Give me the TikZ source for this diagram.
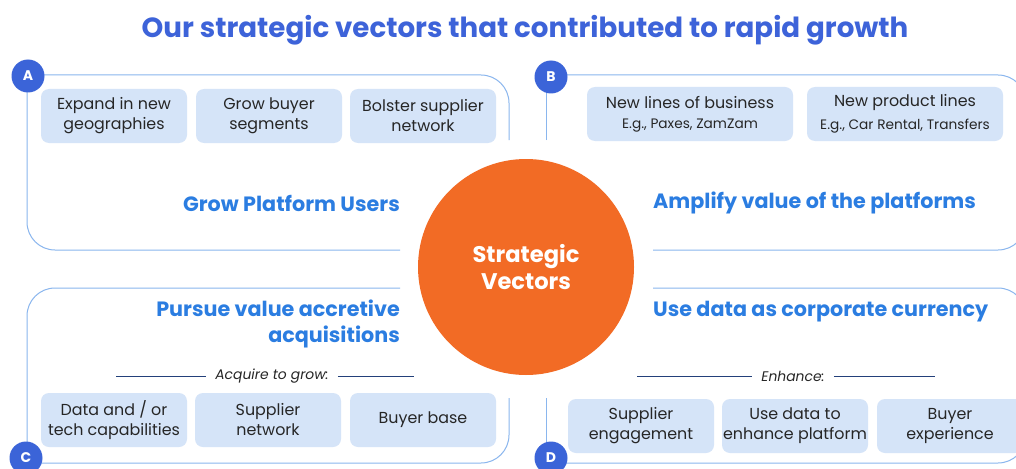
\documentclass[tikz,border=0pt]{standalone}
\usepackage{fontspec}
\setmainfont{Poppins}
\begin{document}
\begin{tikzpicture}[x=1pt,y=-1pt,
  panel/.style={draw=panelc, line width=1pt, rounded corners=28},
  pline/.style={draw=panelc, line width=1pt},
  item/.style={fill=boxc, rounded corners=8, minimum width=146pt, minimum height=54pt, inner sep=0pt, align=center, font=\fontsize{15.9}{20}\selectfont, text=black!85},
  small/.style={},
  badge/.style={circle, fill=badgec, minimum size=33pt, inner sep=0pt, text=white, font=\bfseries\fontsize{14}{14}\selectfont},
  lbl/.style={text=lblc, font=\bfseries\fontsize{20.7}{26}\selectfont, inner sep=0pt},
  sep/.style={font=\itshape\fontsize{13.9}{15}\selectfont, text=black!85, inner sep=0pt},
  sepline/.style={draw=sepc, line width=0.9pt}
]
\definecolor{panelc}{HTML}{8AB6EE}
\definecolor{boxc}{HTML}{D5E4F8}
\definecolor{badgec}{HTML}{3B64D8}
\definecolor{lblc}{HTML}{2B7DE1}
\definecolor{titlec}{HTML}{3D63D9}
\definecolor{orangec}{HTML}{F26B25}
\definecolor{sepc}{HTML}{23407A}
\useasboundingbox (0,0) rectangle (1016,468);
\clip (0,0) rectangle (1016,468);
\fill[white] (0,0) rectangle (1016,468);

% title
\node[text=titlec, font=\bfseries\fontsize{27.7}{30}\selectfont, inner sep=0pt] (title) at (525,30) {Our strategic vectors that contributed to rapid growth};

% panel A
\draw[panel] (400,250) -- (27,250) -- (27,75);
\draw[panel] (27,75) -- (509,75) -- (509,140);
% panel B
\draw[pline] (546,140) -- (546,75);
\draw[panel] (546,75) -- (1026,75) -- (1026,250) -- (653,250);
% panel C
\draw[panel] (400,288) -- (27,288) -- (27,463);
\draw[panel] (27,463) -- (509,463) -- (509,398);
% panel D
\draw[pline] (546,398) -- (546,463);
\draw[panel] (546,463) -- (1026,463) -- (1026,288) -- (653,288);

% badges
\node[badge] (bA) at (28,76) {A};
\node[badge] (bB) at (551,77) {B};
\node[badge] (bC) at (26,458) {C};
\node[badge] (bD) at (551,458) {D};

% center
\node[circle, fill=orangec, minimum size=216pt, inner sep=0pt, text=white, align=center, font=\bfseries\fontsize{22.6}{27}\selectfont] (sv) at (526,267) {Strategic\\Vectors};

% A items
\node[item] (a1) at (114,116) {Expand in new\\geographies};
\node[item] (a2) at (269,116) {Grow buyer\\segments};
\node[item] (a3) at (423,116) {Bolster supplier\\network};
\node[lbl, anchor=east] (la) at (400,203) {Grow Platform Users};

% B items
\node[item, minimum width=206pt] (b1) at (690,114) {New lines of business\\{\fontsize{13.7}{17}\selectfont E.g., Paxes, ZamZam}};
\node[item, minimum width=196pt] (b2) at (905,114) {New product lines\\[3pt]{\fontsize{13.7}{17}\selectfont E.g., Car Rental, Transfers}};
\node[lbl, anchor=west] (lb) at (653,203) {Amplify value of the platforms};

% C
\node[lbl, anchor=east, align=right] (lc) at (400,324) {Pursue value accretive\\acquisitions};
\node[sep] (sc) at (272,376) {Acquire to grow:};
\coordinate (sc1) at (116,376);
\coordinate (sc2) at (414,376);
\draw[sepline] (sc1) -- ([xshift=-9pt]sc.west);
\draw[sepline] ([xshift=9pt]sc.east) -- (sc2);
\node[item] (c1) at (114,420) {Data and / or\\tech capabilities};
\node[item] (c2) at (268,420) {Supplier\\network};
\node[item] (c3) at (423,420) {Buyer base};

% D
\node[lbl, anchor=west] (ld) at (653,312) {Use data as corporate currency};
\node[sep] (sd) at (793,376) {Enhance:};
\coordinate (sd1) at (637,376);
\coordinate (sd2) at (935,376);
\draw[sepline] (sd1) -- ([xshift=-9pt]sd.west);
\draw[sepline] ([xshift=9pt]sd.east) -- (sd2);
\node[item] (d1) at (641,426) {Supplier\\engagement};
\node[item] (d2) at (795,426) {Use data to\\enhance platform};
\node[item] (d3) at (950,426) {Buyer\\experience};
\end{tikzpicture}
\end{document}
